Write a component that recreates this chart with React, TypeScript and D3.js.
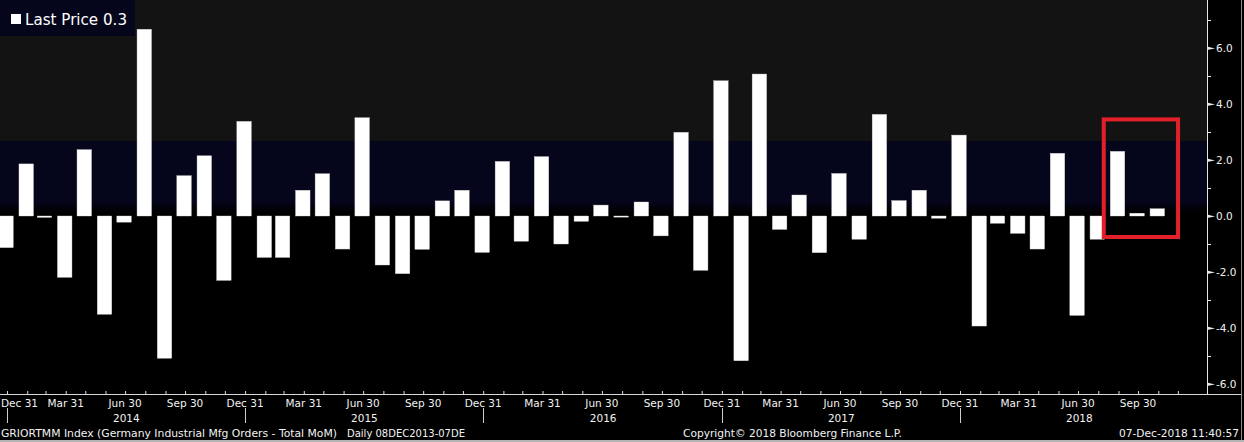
import React from "react";
import * as d3 from "d3";

// ---- data ----
const categories = [
  "2013-12",
  "2014-01", "2014-02", "2014-03", "2014-04", "2014-05", "2014-06", "2014-07", "2014-08", "2014-09", "2014-10", "2014-11", "2014-12",
  "2015-01", "2015-02", "2015-03", "2015-04", "2015-05", "2015-06", "2015-07", "2015-08", "2015-09", "2015-10", "2015-11", "2015-12",
  "2016-01", "2016-02", "2016-03", "2016-04", "2016-05", "2016-06", "2016-07", "2016-08", "2016-09", "2016-10", "2016-11", "2016-12",
  "2017-01", "2017-02", "2017-03", "2017-04", "2017-05", "2017-06", "2017-07", "2017-08", "2017-09", "2017-10", "2017-11", "2017-12",
  "2018-01", "2018-02", "2018-03", "2018-04", "2018-05", "2018-06", "2018-07", "2018-08", "2018-09", "2018-10",
];

const values = [
  -1.13,
  1.86, -0.05, -2.19, 2.37, -3.51, -0.22, 6.67, -5.08, 1.44, 2.15, -2.3, 3.38,
  -1.48, -1.48, 0.92, 1.51, -1.18, 3.51, -1.75, -2.06, -1.19, 0.54, 0.92, -1.3,
  1.95, -0.9, 2.12, -1.0, -0.19, 0.39, -0.04, 0.5, -0.71, 2.99, -1.94, 4.83,
  -5.17, 5.07, -0.48, 0.75, -1.31, 1.52, -0.83, 3.63, 0.55, 0.92, -0.08, 2.89,
  -3.93, -0.26, -0.62, -1.18, 2.24, -3.55, -0.83, 2.31, 0.1, 0.26,
];

const yMajorTicks = [-6, -4, -2, 0, 2, 4, 6];
const yMinorTicks = [-5, -3, -1, 1, 3, 5, 7];
const quarterTickDates = [
  "2013-12-31",
  "2014-03-31", "2014-06-30", "2014-09-30", "2014-12-31",
  "2015-03-31", "2015-06-30", "2015-09-30", "2015-12-31",
  "2016-03-31", "2016-06-30", "2016-09-30", "2016-12-31",
  "2017-03-31", "2017-06-30", "2017-09-30", "2017-12-31",
  "2018-03-31", "2018-06-30", "2018-09-30",
];
const yearLabels = ["2014", "2015", "2016", "2017", "2018"];
const yearSeparators = ["2013-12-31", "2014-12-31", "2015-12-31", "2016-12-31", "2017-12-31"];

const legendLabel = "Last Price 0.3";
const footerTitle = "GRIORTMM Index (Germany Industrial Mfg Orders - Total MoM)";
const footerRange = "Daily 08DEC2013-07DE";
const footerCopyright = "Copyright\u00A9 2018 Bloomberg Finance L.P.";
const footerStamp = "07-Dec-2018 11:40:57";

// background shading bands (value units)
const bandUpper = 2.68;
const bandLower = 0.32;

// highlight box (months and value range)
const highlightFrom = "2018-08";
const highlightTo = "2018-10";
const highlightTop = 3.45;
const highlightBottom = -0.75;

// ---- layout ----
const W = 1244;
const H = 442;
const plotRight = 1207;
const plotBottom = 394;
const FONT = "'DejaVu Sans', sans-serif";
const AXIS_FS = 10.5;

export default function App() {
  const parseMonth = d3.timeParse("%Y-%m");
  const parseDay = d3.timeParse("%Y-%m-%d");
  const monthEnd = (d: Date) => new Date(d.getFullYear(), d.getMonth() + 1, 0);

  const x = d3
    .scaleTime()
    .domain([new Date(2013, 11, 31), new Date(2017, 11, 31)])
    .range([7, 960]);
  const y = d3.scaleLinear().domain([-6, 6]).range([384, 48]);

  const barW = 14.5;
  const barCenter = (cat: string) => x(monthEnd(parseMonth(cat) as Date)) - 1;

  const allMonthTicks = d3.timeMonth
    .range(new Date(2013, 11, 1), new Date(2018, 11, 1))
    .map((d) => monthEnd(d));

  const fmtQ = d3.timeFormat("%b %d");

  const hlLeft = barCenter(highlightFrom) - barW / 2 - 6.5;
  const hlRight = barCenter(highlightTo) + barW / 2 + 13.5;

  return (
    <svg
      width={W}
      height={H}
      style={{ position: "absolute", left: 0, top: 0, display: "block", background: "#000" }}
      fontFamily={FONT}
    >
      <defs>
        <linearGradient id="navyBand" x1="0" y1="0" x2="0" y2="1">
          <stop offset="0" stopColor="#05051b" />
          <stop offset="0.84" stopColor="#05051b" />
          <stop offset="1" stopColor="#000000" />
        </linearGradient>
        <clipPath id="plotClip">
          <rect x={0} y={0} width={plotRight} height={plotBottom} />
        </clipPath>
      </defs>

      <rect x={0} y={0} width={W} height={H} fill="#000" />
      {/* plot bands */}
      <rect x={0} y={0} width={plotRight} height={y(bandUpper)} fill="#131313" />
      <rect
        x={0}
        y={y(bandUpper)}
        width={plotRight}
        height={y(bandLower) - y(bandUpper) + 6}
        fill="url(#navyBand)"
      />

      {/* bars */}
      <g clipPath="url(#plotClip)">
        {values.map((v, i) => {
          const cx = barCenter(categories[i]);
          const y0 = y(0);
          const yv = y(v);
          const top = Math.min(y0, yv);
          const h = Math.max(1, Math.abs(yv - y0));
          return (
            <rect
              key={categories[i]}
              x={cx - barW / 2}
              y={top}
              width={barW}
              height={h}
              fill="#ffffff"
              stroke="#d0d0d0"
              strokeWidth={0.4}
            />
          );
        })}
      </g>

      {/* legend */}
      <rect x={0} y={0} width={135} height={36} fill="#05051b" />
      <rect x={11} y={14} width={10} height={10} fill="#ffffff" />
      <text x={25} y={25} fill="#ffffff" fontSize={15.5} textLength={102} lengthAdjust="spacingAndGlyphs">
        {legendLabel}
      </text>

      {/* highlight box */}
      <rect
        x={hlLeft}
        y={y(highlightTop)}
        width={hlRight - hlLeft}
        height={y(highlightBottom) - y(highlightTop)}
        fill="none"
        stroke="#e3202a"
        strokeWidth={4}
      />

      {/* right axis */}
      <line x1={plotRight + 0.5} x2={plotRight + 0.5} y1={0} y2={plotBottom} stroke="#e6e6e6" strokeWidth={1} />
      {yMinorTicks.map((t) => (
        <line key={"m" + t} x1={plotRight} x2={plotRight + 4} y1={y(t) + 0.5} y2={y(t) + 0.5} stroke="#e6e6e6" />
      ))}
      {yMajorTicks.map((t) => (
        <g key={"M" + t}>
          <path
            d={`M${plotRight},${y(t) - 1.5} L${plotRight + 8},${y(t) + 0.5} L${plotRight},${y(t) + 2} Z`}
            fill="#e6e6e6"
          />
          <text x={1216} y={y(t) + 4} fill="#f2f2f2" fontSize={AXIS_FS}>
            {d3.format(".1f")(t).replace("−", "-")}
          </text>
        </g>
      ))}

      {/* bottom axis */}
      <line x1={0} x2={1241} y1={plotBottom + 0.5} y2={plotBottom + 0.5} stroke="#d8d8d8" />
      {allMonthTicks.map((d, i) => (
        <line
          key={"mt" + i}
          x1={x(d) + 0.5}
          x2={x(d) + 0.5}
          y1={plotBottom - 3}
          y2={plotBottom}
          stroke="#d8d8d8"
        />
      ))}
      {quarterTickDates.map((s, i) => {
        const d = parseDay(s) as Date;
        const px = x(d);
        const first = i === 0;
        return (
          <text
            key={"q" + s}
            x={first ? 1 : px}
            y={407}
            fill="#f2f2f2"
            fontSize={AXIS_FS}
            textAnchor={first ? "start" : "middle"}
          >
            {fmtQ(d)}
          </text>
        );
      })}
      {yearSeparators.map((s) => {
        const px = Math.round(x(parseDay(s) as Date)) + 0.5;
        return <line key={"ys" + s} x1={px} x2={px} y1={408} y2={423} stroke="#cfcfcf" />;
      })}
      {yearLabels.map((yr) => (
        <text
          key={"y" + yr}
          x={x(new Date(+yr, 6, 2))}
          y={422}
          fill="#f2f2f2"
          fontSize={AXIS_FS}
          textAnchor="middle"
        >
          {yr}
        </text>
      ))}

      {/* footer */}
      <text x={1} y={437} fill="#f2f2f2" fontSize={11} textLength={336} lengthAdjust="spacingAndGlyphs">
        {footerTitle}
      </text>
      <text x={347} y={437} fill="#f2f2f2" fontSize={11} textLength={118} lengthAdjust="spacingAndGlyphs">
        {footerRange}
      </text>
      <text x={683} y={437} fill="#f2f2f2" fontSize={11} textLength={219} lengthAdjust="spacingAndGlyphs">
        {footerCopyright}
      </text>
      <text x={1119} y={437} fill="#f2f2f2" fontSize={11} textLength={120} lengthAdjust="spacingAndGlyphs">
        {footerStamp}
      </text>

      {/* frame edges */}
      <line x1={1241.5} x2={1241.5} y1={0} y2={440} stroke="#8c8c8c" />
      <rect x={0} y={440} width={W} height={2} fill="#b4b4b4" />
    </svg>
  );
}
